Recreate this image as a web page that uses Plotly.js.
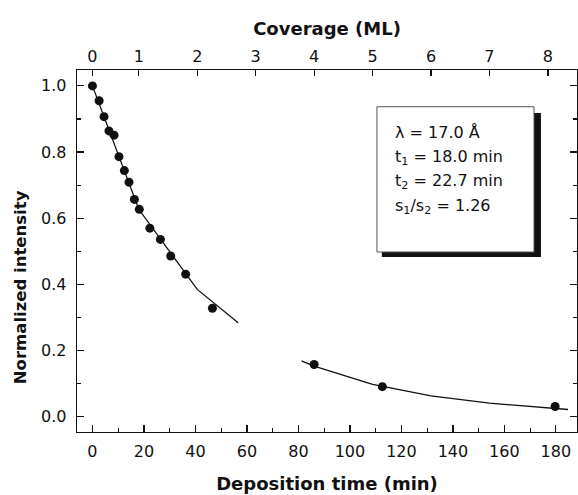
<!DOCTYPE html>
<html>
<head>
<meta charset="utf-8">
<script src="https://cdn.plot.ly/plotly-3.0.1.min.js"></script>
<style>html,body{margin:0;padding:0;background:#fff;}#chart{width:578px;height:495px;}</style>
</head>
<body>
<div id="chart"></div>
<script>
// Measured data points
const timeMin = [0, 2.6, 4.5, 6.4, 8.4, 10.3, 12.4, 14.2, 16.3, 18.2, 22.3, 26.4, 30.4, 36.2, 46.6, 86.1, 112.6, 179.7];
const intensity = [1.0, 0.955, 0.907, 0.864, 0.851, 0.786, 0.744, 0.709, 0.657, 0.627, 0.570, 0.536, 0.486, 0.431, 0.328, 0.158, 0.091, 0.031];

// Fitted curve, first part
const fit1Time = [0, 18.0, 40.7, 56.6];
const fit1Int = [1.0, 0.627, 0.385, 0.284];
// Fitted curve, second part
const fit2Time = [81.2, 86.1, 108.8, 131.5, 154.2, 176.9, 184.7];
const fit2Int = [0.169, 0.153, 0.098, 0.063, 0.041, 0.027, 0.022];

// Coverage axis (top): positions in deposition time, labels in ML
const coverageTickTime = [0, 18.0, 40.7, 63.4, 86.1, 108.8, 131.5, 154.2, 176.9];
const coverageTickText = ['0', '1', '2', '3', '4', '5', '6', '7', '8'];

// Text box lines
const boxLines = ['λ = 17.0 Å', 't<sub>1</sub> = 18.0 min', 't<sub>2</sub> = 22.7 min', 's<sub>1</sub>/s<sub>2</sub> = 1.26'];
const boxLineY = [0.858, 0.785, 0.710, 0.634];

const FONT = '"DejaVu Sans", Arial, Helvetica, sans-serif';
const INK = '#111';

const traces = [
  {x: fit1Time, y: fit1Int, mode: 'lines', line: {color: INK, width: 1.3}, showlegend: false, hoverinfo: 'skip'},
  {x: fit2Time, y: fit2Int, mode: 'lines', line: {color: INK, width: 1.3}, showlegend: false, hoverinfo: 'skip'},
  {x: timeMin, y: intensity, mode: 'markers', marker: {color: INK, size: 9}, showlegend: false},
  {x: [0], y: [null], xaxis: 'x2', mode: 'markers', showlegend: false, hoverinfo: 'skip'}
];

const xr = [-6.0, 188.2];
const layout = {
  width: 578, height: 495,
  margin: {l: 77, r: 1, t: 70, b: 63},
  paper_bgcolor: '#fff', plot_bgcolor: '#fff',
  font: {family: FONT, size: 16, color: INK},
  showlegend: false,
  xaxis: {
    range: xr, dtick: 20, tick0: 0,
    ticks: 'inside', ticklen: 7, tickwidth: 1.2, tickcolor: INK,
    minor: {dtick: 10, ticks: 'inside', ticklen: 4, tickwidth: 1.2, tickcolor: INK},
    showline: true, linecolor: INK, linewidth: 1.3,
    showgrid: false, zeroline: false,
    ticklabelstandoff: 4,
    tickfont: {family: FONT, size: 16, color: INK},
    title: {text: '<b>Deposition time (min)</b>', font: {family: FONT, size: 18, color: INK}, standoff: 18}
  },
  xaxis2: {
    overlaying: 'x', side: 'top', anchor: 'y', range: xr,
    tickmode: 'array', tickvals: coverageTickTime, ticktext: coverageTickText,
    ticks: 'inside', ticklen: 6, tickwidth: 1.2, tickcolor: INK,
    showline: true, linecolor: INK, linewidth: 1.3,
    showgrid: false, zeroline: false,
    ticklabelstandoff: 0,
    tickfont: {family: FONT, size: 16, color: INK},
    title: {text: '<b>Coverage (ML)</b>', font: {family: FONT, size: 18, color: INK}, standoff: 7}
  },
  yaxis: {
    range: [-0.046, 1.048], dtick: 0.2, tick0: 0, tickformat: '.1f',
    ticks: 'inside', ticklen: 7, tickwidth: 1.2, tickcolor: INK,
    minor: {dtick: 0.1, ticks: 'inside', ticklen: 4, tickwidth: 1.2, tickcolor: INK},
    showline: true, linecolor: INK, linewidth: 1.3, mirror: 'ticks',
    showgrid: false, zeroline: false,
    ticklabelstandoff: 6,
    tickfont: {family: FONT, size: 16, color: INK}
  },
  shapes: [
    {type: 'rect', xref: 'x', yref: 'y', x0: 112.4, x1: 174.2, y0: 0.483, y1: 0.918, fillcolor: INK, line: {width: 0}},
    {type: 'rect', xref: 'x', yref: 'y', x0: 110.5, x1: 171.5, y0: 0.498, y1: 0.937, fillcolor: '#fff', line: {color: '#555', width: 1}}
  ],
  annotations: boxLines.map((t, i) => ({
    text: t, xref: 'x', yref: 'y', x: 116.7, y: boxLineY[i], xanchor: 'left', yanchor: 'middle',
    showarrow: false, font: {family: FONT, size: 16, color: INK}
  })).concat([{
    text: '<b>Normalized intensity</b>', xref: 'paper', yref: 'paper', x: -0.114, y: 0.40,
    xanchor: 'center', yanchor: 'middle', textangle: -90, showarrow: false,
    font: {family: FONT, size: 16.5, color: INK}
  }])
};

Plotly.newPlot('chart', traces, layout, {displayModeBar: false, staticPlot: true});
</script>
</body>
</html>
